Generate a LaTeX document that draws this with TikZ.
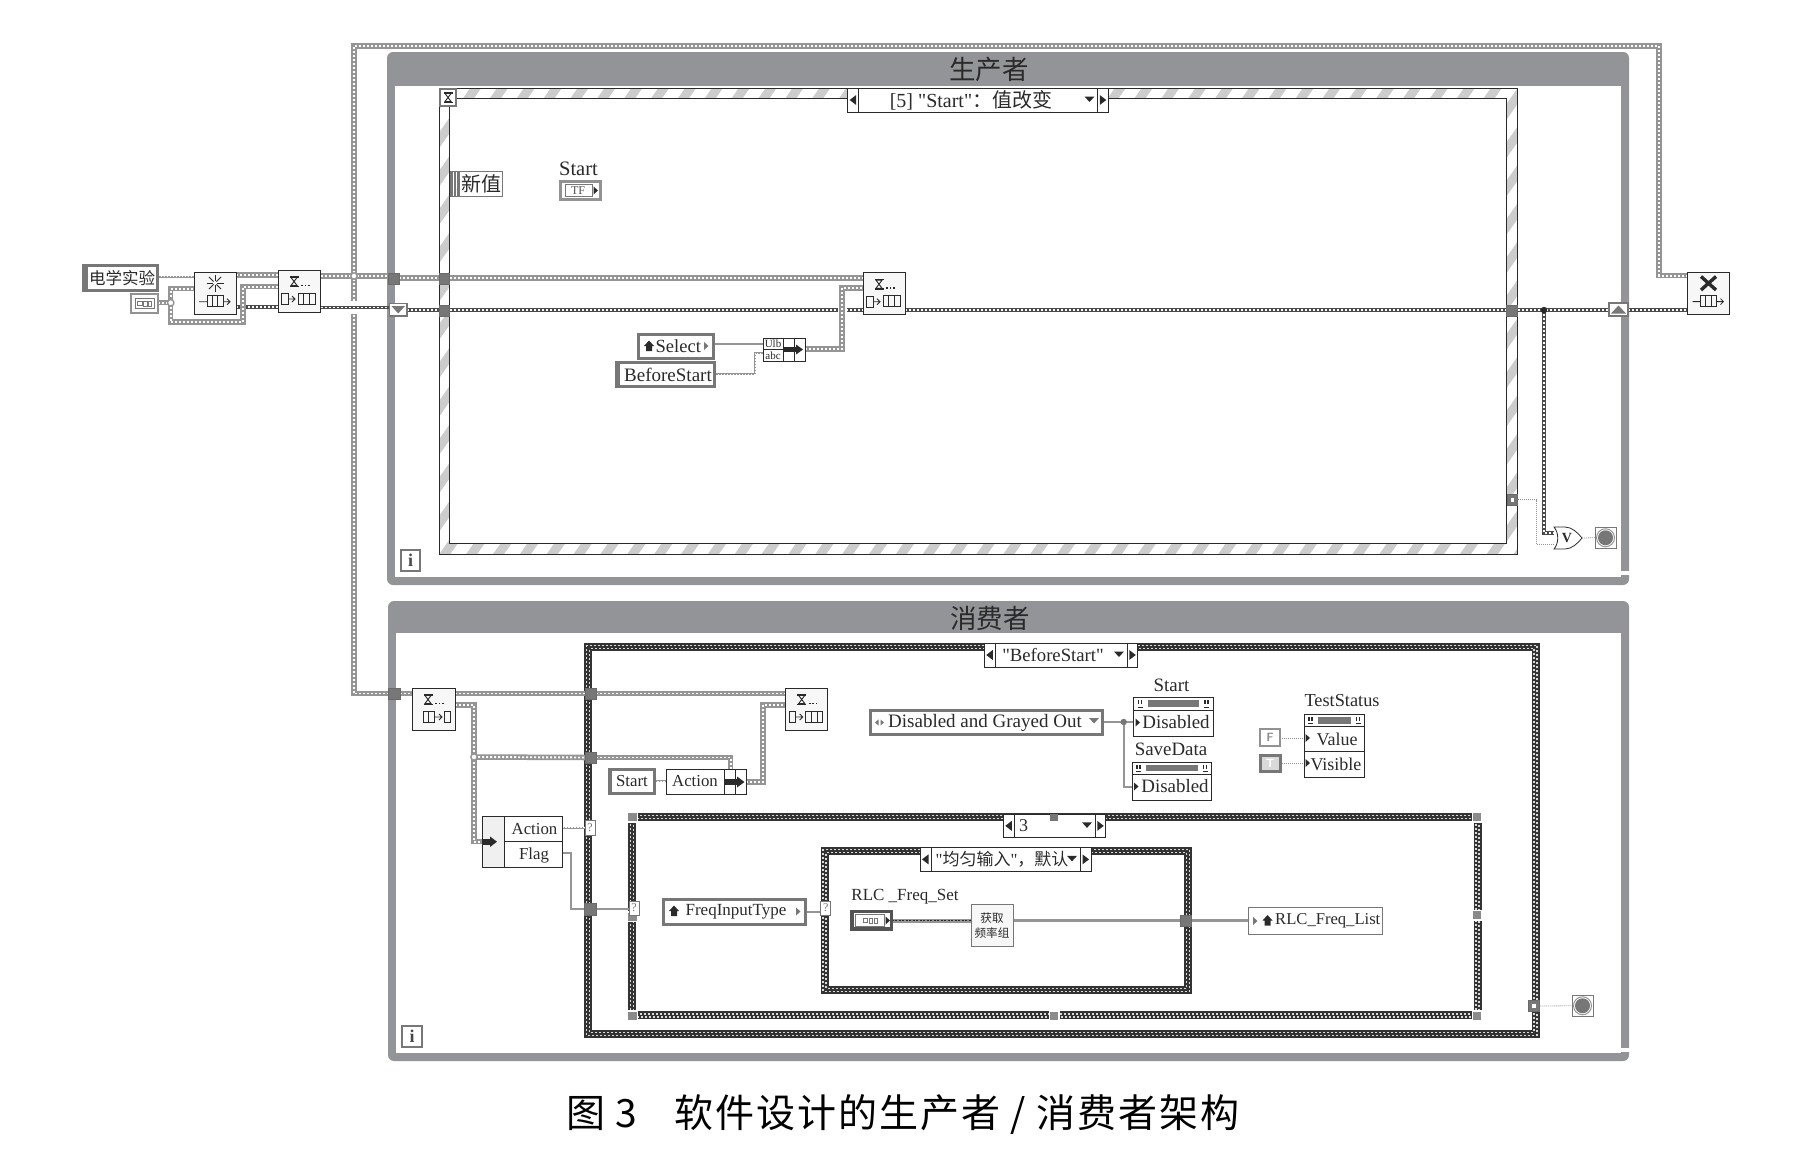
\documentclass[tikz,border=0pt]{standalone}
\usepackage{fontspec}
\setmainfont{Liberation Serif}
\newfontfamily\qf{Liberation Serif}
\newfontfamily\cjk{Noto Sans CJK SC}
\newfontfamily\capf[LetterSpace=5]{Noto Sans CJK SC}
\usetikzlibrary{calc,patterns.meta}
\definecolor{loopg}{HTML}{929497}
\definecolor{wireg}{HTML}{959595}
\definecolor{dk}{HTML}{2A2A2A}
\definecolor{cdark}{HTML}{333333}
\definecolor{midg}{HTML}{777777}
\pgfdeclarelayer{bg}\pgfdeclarelayer{mid}\pgfsetlayers{bg,mid,main}
\newcommand{\fs}[1]{\fontsize{#1}{#1}\selectfont}
\tikzset{
  qw/.style={draw=wireg,line width=5.5pt,postaction={draw=white,line width=1.9pt,dash pattern=on 2pt off 2pt}},
  ew/.style={draw=dk!85,line width=3.6pt,postaction={draw=white,line width=1.1pt,dash pattern=on 2pt off 2pt}},
  gw/.style={draw=wireg,line width=3.6pt,postaction={draw=dk,line width=1.2pt,dash pattern=on 2pt off 1.5pt}},
  strw/.style={draw=wireg,line width=2.4pt,postaction={draw=white,line width=.8pt,dash pattern=on 1.5pt off 1.5pt}},
  th/.style={draw=wireg,line width=1.6pt},
  dotw/.style={draw=wireg,line width=.8pt,dash pattern=on 1pt off 1pt},
  halo/.style={preaction={draw=white,line width=9pt}},
  blk/.style={draw=dk,line width=.9pt,fill=black!3},
  bw/.style={draw=dk,line width=1pt,fill=white},
  tun/.style={draw=dk!70,line width=.7pt,fill=midg},
  ctl/.style={draw=midg,line width=3pt,fill=white},
  ind/.style={draw=midg,line width=.9pt,fill=white},
  chk/.style={draw=white!85!black,line width=1.4pt,dash pattern=on 2pt off 2pt},
  lbl/.style={font=\fs{18.5},inner sep=0pt}
}
% generic box: opts, name, x0 y0 x1 y1, text
\newcommand{\bx}[7][]{%
  \pgfmathsetmacro\bxw{#5-#3}\pgfmathsetmacro\bxh{#6-#4}%
  \pgfmathsetmacro\bxx{(#3+#5)/2}\pgfmathsetmacro\bxy{(#4+#6)/2}%
  \node[inner sep=0pt,outer sep=0pt,minimum width=\bxw pt,minimum height=\bxh pt,#1] (#2) at (\bxx,\bxy) {#7};}
\newcommand{\hglass}[2]{\begin{scope}[shift={(#1,#2)}]
  \fill[dk] (-4.5,-5.5) rectangle (4.5,-4); \fill[dk] (-4.5,4) rectangle (4.5,5.5);
  \draw[dk,line width=.9pt] (-3,-4)--(3,4)--(-3,4)--(3,-4)--cycle;\end{scope}}
\newcommand{\cells}[5]{\draw[dk,line width=.9pt] (#1,#2) rectangle (#3,#4);
  \foreach \i in {1,...,#5}{\draw[dk,line width=.9pt] ({#1+(#3-#1)*\i/(#5+1)},#2) -- ({#1+(#3-#1)*\i/(#5+1)},#4);}}
\newcommand{\tdots}[2]{\foreach \i in {0,3.4,6.8}{\fill[dk] ({#1+\i-.9},#2-.9) rectangle ({#1+\i+.9},#2+.9);}}
\newcommand{\enqicon}[2]{\begin{scope}[shift={(#1,#2)}]
  \hglass{16}{11.5}\tdots{24}{15.5}
  \draw[dk,line width=.9pt] (3.5,23.5) rectangle (10,34.5);
  \draw[dk,line width=.8pt] (10,29)--(17,29) (14,26)--(17,29)--(14,32);
  \cells{20}{23}{37}{34}{2}\end{scope}}
\newcommand{\deqicon}[2]{\begin{scope}[shift={(#1,#2)}]
  \hglass{16}{11.5}\tdots{24}{15.5}
  \cells{11}{23}{22}{34}{1}
  \draw[dk,line width=.8pt] (22,29)--(30,29) (27,26)--(30,29)--(27,32);
  \draw[dk,line width=.9pt] (32,23) rectangle (38.5,34)
  ;\end{scope}}
\newcommand{\qicon}[2]{\begin{scope}[shift={(#1,#2)}]
  \cells{13}{23}{29}{34}{2}
  \draw[dk,line width=.8pt] (5,29)--(13,29) (29,29)--(36,29) (33,26)--(36,29)--(33,32);\end{scope}}
\newcommand{\ltri}[2]{\fill[dk] (#1-3.5,#2) -- (#1+3,#2-5) -- (#1+3,#2+5) -- cycle;}
\newcommand{\rtri}[2]{\fill[dk] (#1+3.5,#2) -- (#1-3,#2-5) -- (#1-3,#2+5) -- cycle;}
\newcommand{\stri}[3][dk]{\fill[#1] (#2+2.5,#3) -- (#2-2,#3-4) -- (#2-2,#3+4) -- cycle;}
\newcommand{\dtri}[3][dk]{\fill[#1] (#2-5,#3-2.5) -- (#2+5,#3-2.5) -- (#2,#3+3) -- cycle;}
\newcommand{\house}[2]{\begin{scope}[shift={(#1,#2)}]
  \fill[dk] (-5,0)--(0,-5.5)--(5,0)--(3,0)--(3,5)--(-3,5)--(-3,0)--cycle;\end{scope}}
% tiny glyph marks inside a typed constant
\newcommand{\tinyg}[2]{\begin{scope}[shift={(#1,#2)}]
  \draw[midg,line width=1pt] (-7,-2.5) rectangle (-2.5,1.5) (-1,-2.5) rectangle (2.5,2.5) (4,-2.5) rectangle (7,2.5);\end{scope}}
% case selector: name x0 y0 x1 y1 d0 d1
\newcommand{\selbox}[7]{\bx[bw]{#1}{#2}{#3}{#4}{#5}{}
  \draw[dk,line width=1pt] (#6,#3)--(#6,#5) (#7,#3)--(#7,#5);
  \pgfmathsetmacro\sxa{(#2+#6)/2}\pgfmathsetmacro\sxb{(#7+#4)/2}\pgfmathsetmacro\sym{(#3+#5)/2}\pgfmathsetmacro\sdx{#7-8}\pgfmathsetmacro\sdy{\sym-1}
  \ltri{\sxa}{\sym}\rtri{\sxb}{\sym}
  \dtri{\sdx}{\sdy}}
% case structure border
\newcommand{\casebox}[4]{\fill[white] (#1,#2) rectangle (#3,#4);
  \draw[line width=8pt,draw=cdark] (#1+4,#2+4) rectangle (#3-4,#4-4);
  \draw[chk] (#1+2.5,#2+2.5) rectangle (#3-2.5,#4-2.5);
  \draw[chk,dash phase=2pt] (#1+5.5,#2+5.5) rectangle (#3-5.5,#4-5.5);}
% property node header
\newcommand{\phead}[4]{\fill[midg] (#1+14,#2+3) rectangle (#3-14,#4-3);
  \foreach \xx in {#1+6.5,#3-6.5}{\fill[dk] (\xx-2.5,#2+2.5) rectangle (\xx-1,#2+7); \fill[dk] (\xx+.5,#2+2.5) rectangle (\xx+2,#2+7);
    \draw[dk,line width=.7pt] (\xx-2.5,#4-3)--(\xx+2.5,#4-3);}}
\newcommand{\stopi}[5]{\bx[ind]{#1}{#2}{#3}{#4}{#5}{}
  \fill[midg] (#1) circle (7.5pt); \draw[wireg,line width=1pt] (#1) circle (9pt);}
\begin{document}
\begin{tikzpicture}[x=1pt,y=-1pt,line cap=butt,every node/.style={font=\fs{18.5},text=dk}]
\useasboundingbox (0,0) rectangle (1815,1151);
\begin{pgfonlayer}{bg}
\fill[white] (0,0) rectangle (1815,1151);
% producer loop
\fill[loopg,rounded corners=6pt] (387,52) rectangle (1629,585);
\fill[white] (395,86) rectangle (1621,577);
\fill[white] (1621,571) rectangle (1630,574.5);
% consumer loop
\fill[loopg,rounded corners=6pt] (388,601) rectangle (1629,1061);
\fill[white] (396,633) rectangle (1621,1053);
\fill[white] (1621,1048) rectangle (1630,1051.5);
% event structure
\fill[white] (439,88) rectangle (1517.6,554.6);
\fill[pattern={Lines[angle=55,distance=22pt,line width=9pt]},pattern color=black!20] (439,88) rectangle (1517.6,554.6);
\draw[dk,line width=.9pt] (439,88) rectangle (1517.6,554.6);
\fill[white] (449.6,98) rectangle (1506.7,543.5);
\draw[dk,line width=.9pt] (449.6,98) rectangle (1506.7,543.5);
% case structures
\casebox{584}{642.7}{1539.5}{1038}
\casebox{628}{813}{1481.6}{1019.3}
\casebox{820.5}{846.7}{1191.7}{994}
\end{pgfonlayer}
% ---- titles
\node[font=\cjk\fs{26.5}] (tp) at (989,70) {生产者};
\node[font=\cjk\fs{26.5}] (tc) at (990,618) {消费者};
\node[font=\capf\fs{39},text=black,anchor=west,inner sep=0pt] (cap) at (566,1115) {图 3\hspace{0.95em}软件设计的生产者 / 消费者架构};
% ---- i boxes
\bx[draw=midg,line width=2pt,fill=white,font=\fs{18}\bfseries,text=midg!60!black]{ia}{401}{550}{420}{571}{i}
\bx[draw=midg,line width=2pt,fill=white,font=\fs{18}\bfseries,text=midg!60!black]{ib}{402}{1026}{422}{1047}{i}
% ---- hourglass tile
\bx[draw=midg,line width=2.5pt,fill=white]{hg}{440}{89}{456}{106}{}
\hglass{448}{97.5}
% ---- selectors
\selbox{sa}{847.6}{88}{1108}{112}{858.7}{1097.5}
\node[font=\qf\fs{20}] (sat) at (971,100) {[5] "Start"{\cjk ：值改变}};
\selbox{sb}{984.5}{643}{1137.5}{667}{995}{1127}
\node[font=\qf\fs{18.7}] (sbt) at (1053,655.5) {"BeforeStart"};
\selbox{sc}{1003.5}{814}{1105.5}{837.7}{1014}{1095}
\node[font=\fs{18}] (sct) at (1023.6,826) {3};
\fill[midg] (1050,813.5) rectangle (1058,821);
\selbox{sd}{920}{847.7}{1091}{871}{931}{1080}
\node[font=\qf\fs{17}] (sdt) at (1002,859.5) {"{\cjk 均匀输入}"{\cjk ，默认}};
% ---- seq frame squares
\foreach \qx/\qy in {632.5/817,632.5/1015.5,632.5/916.5,1477/817,1477/1015.5,1477/915,1054/1015.5}{
  \fill[white] (\qx-5.5,\qy-5.5) rectangle (\qx+5.5,\qy+5.5); \fill[midg!85!white] (\qx-4.2,\qy-4) rectangle (\qx+4.2,\qy+4);}
% ---- producer nodes
\bx[ctl]{lab}{83.5}{265.5}{157.5}{290.5}{}
\fill[midg] (82,264) rectangle (88,292);
\node[font=\cjk\fs{16.5}] (labt) at (122,278) {电学实验};
\bx[draw=midg!80,line width=2pt,fill=white]{ca}{131}{294}{158}{312.5}{}
\draw[midg,line width=.8pt] (135,298) rectangle (154,308.5);
\tinyg{144.5}{303.5}
\bx[blk]{obt}{194}{272.7}{236.4}{314.7}{}
\foreach \a in {0,45,...,315}{\draw[dk,line width=.9pt] (215,283)++(\a:2) -- ++(\a:6.5);}
\qicon{194}{272.7}
\bx[blk]{enqa}{278}{270}{320.6}{312}{}
\enqicon{278}{270}
\bx[tun]{ta}{388}{273}{399}{284}{}
\bx[draw=midg,line width=1.6pt,fill=white]{srd}{389.5}{303.5}{407}{316}{}
\fill[midg] (391.5,306) -- (405,306) -- (398.2,313.5) -- cycle;
\bx[tun]{tb}{439}{273}{449.5}{284}{}
\bx[tun]{tcx}{439}{305}{449.5}{316}{}
\bx[draw=midg,line width=1pt,fill=white]{nv}{450}{171}{502}{196.5}{}
\fill[midg] (450,171) rectangle (460,196.5);
\draw[white,line width=.7pt] (453.3,172)--(453.3,196) (456.6,172)--(456.6,196);
\node[font=\cjk\fs{20}] (nvt) at (481,183.5) {新值};
\node[font=\fs{20.5}] (stl) at (578.5,169) {Start};
\bx[ctl,line width=2.5pt,draw=midg!80]{tf}{560.5}{181.5}{600.5}{199.5}{}
\draw[midg,line width=.7pt] (565,184.5) rectangle (592,196.5);
\node[font=\fs{12},text=midg!70!black] (tft) at (578,190.5) {TF};
\stri{595.5}{190.5}
\bx[ctl]{sel}{638.5}{334}{713}{358}{}
\house{649}{346}
\node[font=\fs{18.5},anchor=west,inner sep=0pt] (selt) at (655.5,346) {Select};
\stri[midg]{706}{346}
\bx[ctl]{bs}{616.5}{362.5}{714.5}{386.5}{}
\fill[midg] (615,361) rectangle (620,388);
\node[font=\fs{19}] (bst) at (668,375) {BeforeStart};
\bx[draw=dk,line width=1pt,fill=white]{bun}{763}{338}{805}{361}{}
\draw[dk,line width=.9pt] (783.5,338)--(783.5,361) (794.5,338)--(794.5,361) (763,349.5)--(783.5,349.5);
\node[font=\fs{11},inner sep=0pt] (bua) at (773,344) {Ulb};
\node[font=\fs{11},inner sep=0pt] (bub) at (773,355.5) {abc};
\fill[dk] (783,347) rectangle (797,352); \fill[dk] (796,344.5)--(803,349.5)--(796,354.5)--cycle;
\bx[blk]{enqb}{863}{272.7}{905.4}{314.7}{}
\enqicon{863}{272.7}
\bx[tun]{td}{1506.7}{305}{1517.6}{316}{}
\bx[draw=midg,line width=1.6pt,fill=white]{sru}{1609}{303}{1628}{316}{}
\fill[midg] (1611,313.5) -- (1626,313.5) -- (1618.5,305.5) -- cycle;
\bx[blk]{rel}{1687.5}{272.6}{1729.4}{314.7}{}
\draw[dk,line width=3.4pt] (1701,276.5)--(1716,290) (1716,276.5)--(1701,290);
\qicon{1687.5}{272.6}
\bx[tun]{te}{1507}{494.6}{1517.6}{505}{}
\fill[white] (1510.5,498)  rectangle (1514,501.5);
\bx[draw=none]{org}{1554}{527}{1582}{549}{}
\draw[dk,line width=.8pt,fill=white] (1554,527) -- (1565,527) .. controls (1572,527) and (1578,533) .. (1582,538) .. controls (1578,543) and (1572,549) .. (1565,549) -- (1554,549) .. controls (1559,543) and (1559,533) .. (1554,527) -- cycle;
\node[font=\fs{14}\bfseries,inner sep=0pt] (orv) at (1567,538) {V};
\stopi{sa1}{1595}{527.5}{1616}{548}
% ---- consumer nodes
\bx[tun]{tf1}{388}{688}{400}{699}{}
\bx[blk]{deq}{412}{688}{455}{730.7}{}
\deqicon{412}{688}
\bx[blk]{enqc}{785.7}{688}{827.7}{730.7}{}
\enqicon{785.7}{688}
\bx[tun]{tf2}{585}{688}{596}{699}{}
\bx[tun]{tf3}{585}{752}{596}{763}{}
\bx[tun]{tf4}{584.5}{903}{596}{915}{}
\bx[ctl]{st}{609}{769.5}{654}{793.5}{}
\fill[midg] (607.7,768) rectangle (612,795);
\node[font=\fs{16.8}] (stt) at (632,781) {Start};
\bx[draw=dk,line width=1pt,fill=white]{act}{666}{769}{746}{794.3}{}
\node[font=\fs{16.8}] (actt) at (695,781) {Action};
\draw[dk,line width=1pt] (724,769)--(724,794.3) (735.3,769)--(735.3,794.3);
\fill[dk] (725,779) rectangle (738,785); \fill[dk] (737,776.5)--(744.5,782)--(737,787.5)--cycle;
\bx[draw=dk,line width=1pt,fill=white]{unb}{482}{816}{562}{867}{}
\fill[black!6] (482.5,816.5) rectangle (504,866.5);
\draw[dk,line width=1pt] (504,816)--(504,867) (504,841.7)--(562,841.7);
\fill[dk] (482.5,839) rectangle (491,844.5); \fill[dk] (490,836.5)--(497,841.7)--(490,847)--cycle;
\node[font=\fs{16.8}] (unba) at (534.5,829) {Action};
\node[font=\fs{16.8}] (unbf) at (534,855) {Flag};
\bx[draw=midg,line width=.7pt,fill=white,font=\fs{12},text=midg]{qa}{585}{820}{595}{835}{?}
\bx[draw=midg,line width=.7pt,fill=white,font=\fs{12},text=midg]{qb}{629}{901}{639}{915}{?}
\bx[draw=midg,line width=.7pt,fill=white,font=\fs{12},text=midg]{qc}{820.7}{901}{830.7}{915}{?}
\bx[ctl]{fit}{663.5}{899}{805.5}{924}{}
\house{674}{911}
\node[font=\fs{17}] (fitt) at (736,911.5) {FreqInputType};
\stri[midg]{798}{911.5}
\node[font=\fs{17}] (rlcl) at (905,897) {RLC \_Freq\_Set};
\bx[ctl,line width=3.4pt,draw=midg!70!black]{rlc}{852}{911.5}{891.5}{929}{}
\draw[midg,line width=.7pt] (855.5,914.5) rectangle (884,926);
\tinyg{870}{920.5}
\stri{887.5}{920.5}
\bx[draw=midg,line width=1pt,fill=black!3]{get}{971}{904}{1013}{946.7}{}
\node[font=\cjk\fs{11.6},align=center,inner sep=0pt] (gett) at (992,925.5) {获取\\[3pt]频率组};
\bx[tun]{tf5}{1180}{915.7}{1191.7}{926.7}{}
\bx[draw=midg,line width=1pt,fill=white]{list}{1248}{907}{1382}{934.3}{}
\stri[midg]{1255}{921}
\house{1267.5}{920.5}
\node[font=\fs{16.6},anchor=west,inner sep=0pt] (listt) at (1275,921) {RLC\_Freq\_List};
\bx[ctl]{dis}{870.5}{710.5}{1102}{734.5}{}
\node[font=\fs{19}] (dist) at (985,723) {Disabled and Grayed Out};
\fill[midg] (878.5,719.5)--(875,722.5)--(878.5,725.5)--cycle; \fill[midg] (880.5,719.5)--(884,722.5)--(880.5,725.5)--cycle;
\dtri[midg]{1094}{720.5}
\node[font=\fs{18.9}] (ps1l) at (1171.5,685.5) {Start};
\bx[ind,draw=dk]{ps1}{1133.6}{697}{1213}{736}{}
\phead{1133.6}{697}{1213}{710}
\draw[dk,line width=.9pt] (1133.6,710)--(1213,710);
\node[font=\fs{18.9}] (ps1t) at (1176,722.5) {Disabled};
\stri{1137.5}{722.5}
\node[font=\fs{18.9}] (ps2l) at (1171,749.5) {SaveData};
\bx[ind,draw=dk]{ps2}{1132}{762}{1211.5}{800}{}
\phead{1132}{762}{1211.5}{774}
\draw[dk,line width=.9pt] (1132,774)--(1211.5,774);
\node[font=\fs{18.9}] (ps2t) at (1175,786) {Disabled};
\stri{1136}{786.5}
\node[font=\fs{18.3}] (tsl) at (1342,701) {TestStatus};
\bx[ind,draw=dk]{ts}{1304}{714}{1364.5}{777.7}{}
\phead{1304}{714}{1364.5}{726.7}
\draw[dk,line width=.9pt] (1304,726.7)--(1364.5,726.7) (1304,751.7)--(1364.5,751.7);
\node[font=\fs{18}] (tsv) at (1337,739.5) {Value};
\node[font=\fs{18}] (tsb) at (1336,764.5) {Visible};
\stri{1307.5}{738}\stri{1307.5}{763}
\bx[draw=midg!80,line width=2pt,fill=white,font=\sffamily\bfseries\fs{12},text=midg!80]{cf}{1260}{729}{1280}{746}{F}
\bx[draw=midg,line width=3pt,fill=black!15,font=\sffamily\bfseries\fs{12},text=white]{ct}{1260.5}{755.5}{1280}{771.5}{T}
\bx[tun]{tg}{1528.5}{1000.5}{1539.5}{1011.5}{}
\fill[white] (1532,1004) rectangle (1536,1008);
\stopi{sa2}{1572}{995.5}{1593}{1016}
% ---- wire layer
\begin{pgfonlayer}{mid}
\coordinate (j0) at (170.7,302.7);
\coordinate (jq) at (354,276);
\coordinate (jr) at (1544,310);
\coordinate (j2) at (474,757);
\coordinate (j3) at (1123.7,722);
\draw[strw] (lab.east |- 0,276.7) -- (obt.west |- 0,276.7);
\draw[ew] (obt.east |- 0,307) -- (enqa.west |- 0,307);
\draw[qw] (ca.east |- j0) -- (j0);
\draw[qw] (enqa.west |- 0,286.7) -- (243,286.7) -- (243,322) -- (170.7,322) -- (j0) -- (170.7,288.7) -- (obt.west |- 0,288.7);
\draw[qw] (obt.east |- 0,275) -- (enqa.west |- 0,275);
\draw[qw] (enqa.east |- 0,276) -- (jq) -- (ta.west |- 0,276);
\draw[qw] (ta.east |- 0,278) -- (tb.west |- 0,278);
\draw[qw] (tb.east |- 0,278) -- (enqb.west |- 0,278);
\draw[qw] (rel.west |- 0,275.6) -- (1659,275.6) -- (1659,46) -- (354,46) -- (jq) -- (354,693.5) -- (tf1.west |- 0,693.5);
\fill[white] (350,301) rectangle (358,314);
\draw[ew] (enqa.east |- 0,307.5) -- (srd.west |- 0,307.5);
\draw[ew] (srd.east |- 0,310) -- (tcx.west |- 0,310);
\draw[ew] (tcx.east |- 0,310) -- (enqb.west |- 0,310);
\draw[ew] (enqb.east |- 0,310) -- (td.west |- 0,310);
\draw[ew] (td.east |- 0,310) -- (sru.west |- 0,310);
\draw[ew] (sru.east |- 0,310) -- (rel.west |- 0,310);
\draw[ew] (jr) -- (1544,533) -- (org.west |- 0,533);
\draw[qw,halo] (bun.east |- 0,349) -- (842,349) -- (842,288) -- (enqb.west |- 0,288);
\draw[th] (sel.east |- 0,344) -- (bun.west |- 0,344);
\draw[strw] (bs.east |- 0,374) -- (755,374) -- (755,353) -- (bun.west |- 0,353);
\draw[dotw] (te.east |- 0,499.5) -- (1536.5,499.5) -- (1536.5,544) -- (org.west |- 0,544);
\draw[dotw] (org.east) -- (sa1.west);
% consumer wires
\draw[qw] (tf1.east) -- (deq.west |- tf1);
\draw[qw] (deq.east |- tf1) -- (tf2.west);
\draw[qw] (tf2.east) -- (enqc.west |- tf2);
\draw[qw] (deq.east |- 0,705) -- (474,705) -- (474,841.7) -- (unb.west |- 0,841.7);
\draw[qw] (j2) -- (tf3.west);
\draw[qw] (tf3.east) -- (730.7,757.5) -- (730.7,769);
\draw[strw] (st.east |- 0,781) -- (act.west |- 0,781);
\draw[qw] (act.east |- 0,782) -- (763,782) -- (763,705) -- (enqc.west |- 0,705);
\draw[strw] (unb.east |- 0,827.7) -- (qa.west |- 0,827.7);
\draw[th] (unb.east |- 0,853) -- (571,853) -- (571,909) -- (tf4.west |- 0,909);
\draw[th] (tf4.east |- 0,909) -- (qb.west |- 0,909);
\draw[th] (fit.east |- 0,911.7) -- (qc.west |- 0,911.7);
\draw[gw] (rlc.east |- 0,920.7) -- (get.west |- 0,920.7);
\draw[th,line width=2.6pt] (get.east |- 0,920.7) -- (tf5.west |- 0,920.7);
\draw[th,line width=2.6pt] (tf5.east |- 0,920.7) -- (list.west |- 0,920.7);
\draw[th] (dis.east |- j3) -- (ps1.west |- j3);
\draw[th] (j3) -- (1123.7,786.7) -- (ps2.west |- 0,786.7);
\draw[dotw] (cf.east |- 0,738) -- (ts.west |- 0,738);
\draw[dotw] (ct.east |- 0,763.3) -- (ts.west |- 0,763.3);
\draw[dotw] (tg.east) -- (sa2.west);
\end{pgfonlayer}
% junction dots
\draw[wireg,line width=1.4pt,fill=white] (j0) circle (3.2pt);
\draw[wireg,line width=1.4pt,fill=white] (jq) circle (3.2pt);
\draw[wireg,line width=1.4pt,fill=white] (j2) circle (3.2pt);
\fill[dk] (jr) circle (3.2pt);
\fill[midg] (j3) circle (3.2pt);
\end{tikzpicture}
\end{document}
